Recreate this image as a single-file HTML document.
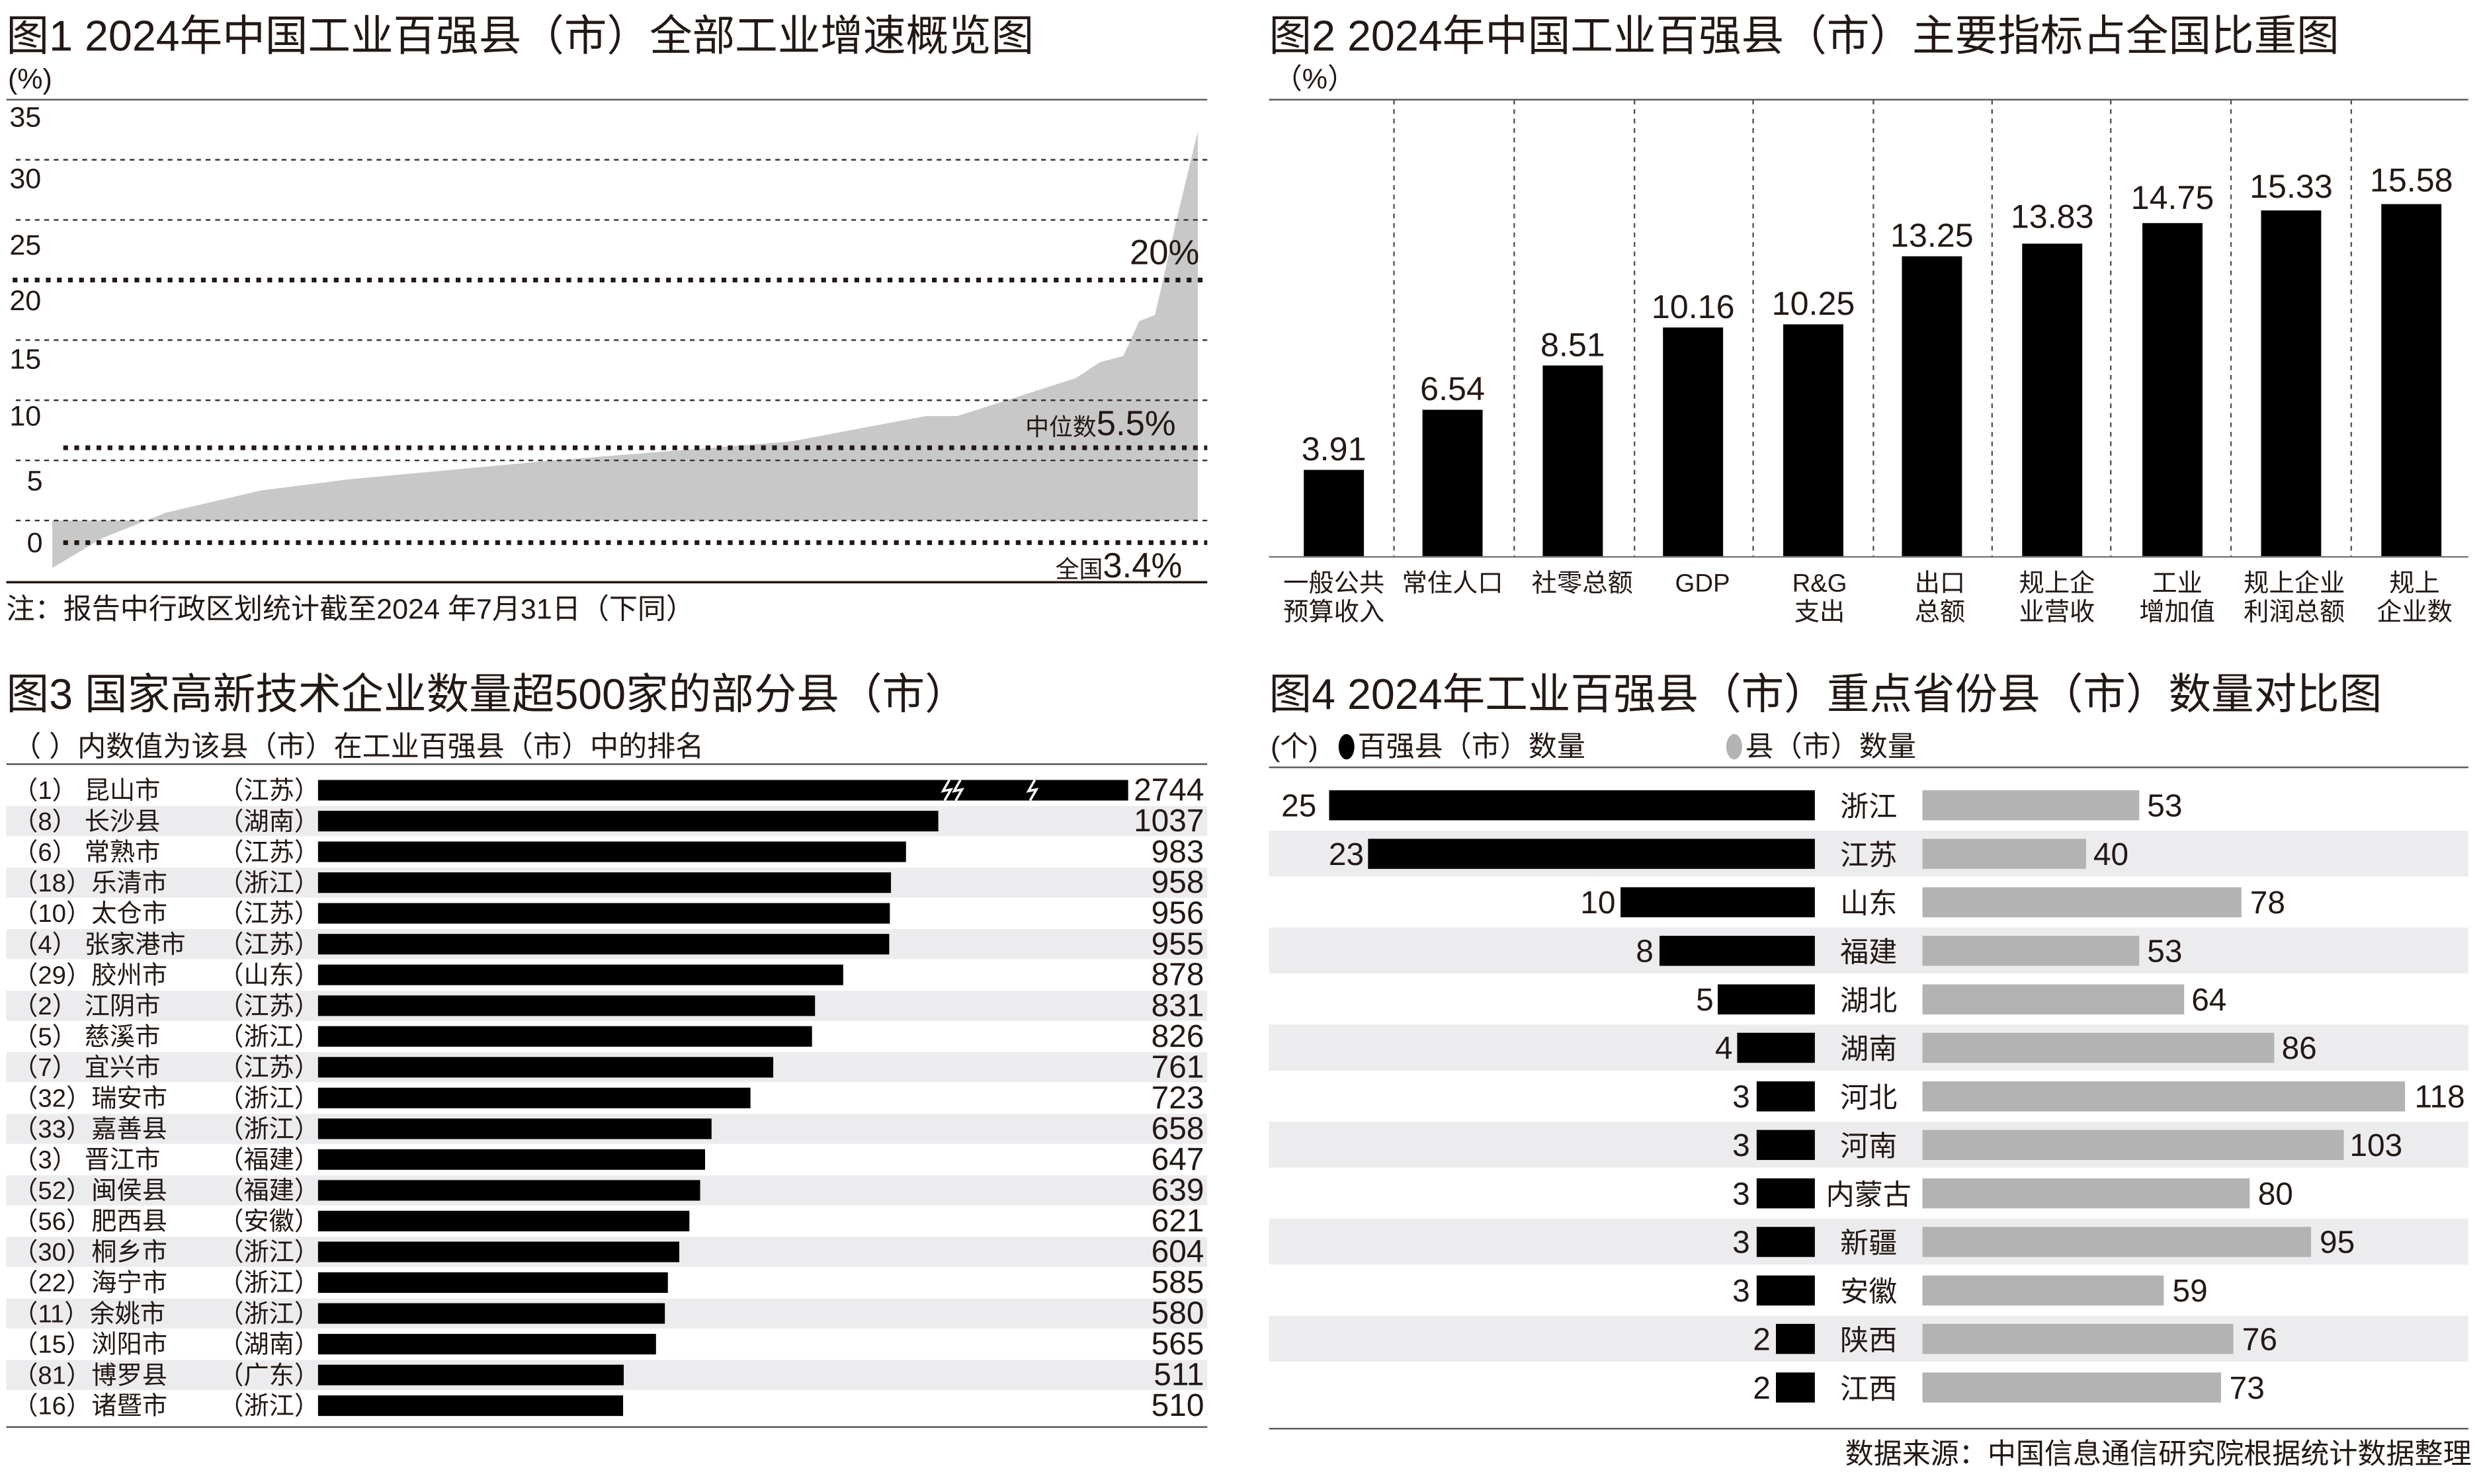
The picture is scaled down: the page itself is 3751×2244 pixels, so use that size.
<!DOCTYPE html>
<html><head><meta charset="utf-8"><style>
html,body{margin:0;padding:0;background:#fff;}
svg{display:block;}
text{font-family:"Liberation Sans Narrow","Liberation Sans","Noto Sans CJK SC",sans-serif;fill:#231815;}
.t{font-size:27px;}
.s{font-size:18px;}
.n{font-size:20px;}
</style></head><body>
<svg width="3751" height="2244" viewBox="0 0 1568 938" preserveAspectRatio="none" xmlns="http://www.w3.org/2000/svg">
<!-- Chart 1 -->
<text x="4" y="32" class="t">图1 2024年中国工业百强县（市）全部工业增速概览图</text>
<text x="5" y="56" class="s">(%)</text>
<line x1="4" y1="63" x2="763" y2="63" stroke="#555" stroke-width="1"/>
<polygon fill="#c8c8c8" points="33,359 65,340 105,324 165,310 220,303 350,291 500,279 585,263 605,263 680,239 695,229 710,225 720,203 730,199 745,133 757,83 757,329 33,329"/>
<g stroke="#333" stroke-width="1" stroke-dasharray="3,3">
<line x1="10" y1="101" x2="763" y2="101"/><line x1="10" y1="139" x2="763" y2="139"/>
<line x1="10" y1="215" x2="763" y2="215"/><line x1="10" y1="253" x2="763" y2="253"/>
<line x1="10" y1="291" x2="763" y2="291"/><line x1="10" y1="329" x2="763" y2="329"/>
</g>
<g stroke="#231815" stroke-width="3" stroke-dasharray="3,4">
<line x1="8" y1="177" x2="763" y2="177"/><line x1="40" y1="283" x2="763" y2="283"/><line x1="40" y1="343" x2="763" y2="343"/>
</g>
<line x1="4" y1="368" x2="763" y2="368" stroke="#231815" stroke-width="1.5"/>
<g class="s"><text x="6" y="80" class="s">35</text><text x="6" y="119" class="s">30</text><text x="6" y="161" class="s">25</text><text x="6" y="196" class="s">20</text><text x="6" y="233" class="s">15</text><text x="6" y="269" class="s">10</text><text x="17" y="310" class="s">5</text><text x="17" y="349" class="s">0</text></g>
<text x="714" y="167" style="font-size:22px">20%</text>
<text x="648" y="275" style="font-size:15px">中位数<tspan style="font-size:22px">5.5%</tspan></text>
<text x="667" y="365" style="font-size:15px">全国<tspan style="font-size:22px">3.4%</tspan></text>
<text x="4" y="391" class="s">注：报告中行政区划统计截至2024 年7月31日（下同）</text>

<!-- Chart 2 -->
<text x="802" y="32" class="t">图2 2024年中国工业百强县（市）主要指标占全国比重图</text>
<text x="805" y="56" class="s">（%）</text>
<line x1="802" y1="63" x2="1560" y2="63" stroke="#555" stroke-width="1"/>
<g stroke="#555" stroke-width="1" stroke-dasharray="3,3">
<line x1="881" y1="63" x2="881" y2="352"/><line x1="957" y1="63" x2="957" y2="352"/><line x1="1033" y1="63" x2="1033" y2="352"/>
<line x1="1108" y1="63" x2="1108" y2="352"/><line x1="1184" y1="63" x2="1184" y2="352"/><line x1="1259" y1="63" x2="1259" y2="352"/>
<line x1="1334" y1="63" x2="1334" y2="352"/><line x1="1410" y1="63" x2="1410" y2="352"/><line x1="1486" y1="63" x2="1486" y2="352"/>
</g>
<g fill="#000">
<rect x="824" y="297" width="38" height="55"/><rect x="899" y="259" width="38" height="93"/><rect x="975" y="231" width="38" height="121"/>
<rect x="1051" y="207" width="38" height="145"/><rect x="1127" y="205" width="38" height="147"/><rect x="1202" y="162" width="38" height="190"/>
<rect x="1278" y="154" width="38" height="198"/><rect x="1354" y="141" width="38" height="211"/><rect x="1429" y="133" width="38" height="219"/>
<rect x="1505" y="129" width="38" height="223"/>
</g>
<line x1="802" y1="352" x2="1560" y2="352" stroke="#777" stroke-width="1"/>
<g style="font-size:21px" text-anchor="middle">
<text x="843" y="291">3.91</text><text x="918" y="253">6.54</text><text x="994" y="225">8.51</text><text x="1070" y="201">10.16</text>
<text x="1146" y="199">10.25</text><text x="1221" y="156">13.25</text><text x="1297" y="144">13.83</text><text x="1373" y="132">14.75</text>
<text x="1448" y="125">15.33</text><text x="1524" y="121">15.58</text>
</g>
<g style="font-size:16px" text-anchor="middle">
<text x="843" y="374">一般公共</text><text x="843" y="392">预算收入</text>
<text x="918" y="374">常住人口</text><text x="1000" y="374">社零总额</text><text x="1076" y="374">GDP</text>
<text x="1150" y="374">R&amp;G</text><text x="1150" y="392">支出</text>
<text x="1226" y="374">出口</text><text x="1226" y="392">总额</text>
<text x="1300" y="374">规上企</text><text x="1300" y="392">业营收</text>
<text x="1376" y="374">工业</text><text x="1376" y="392">增加值</text>
<text x="1450" y="374">规上企业</text><text x="1450" y="392">利润总额</text>
<text x="1526" y="374">规上</text><text x="1526" y="392">企业数</text>
</g>

<!-- Chart 3 -->
<text x="4" y="448" class="t">图3 国家高新技术企业数量超500家的部分县（市）</text>
<text x="8" y="478" class="s">（ ）内数值为该县（市）在工业百强县（市）中的排名</text>
<line x1="4" y1="483" x2="763" y2="483" stroke="#555" stroke-width="1"/>
<g fill="#ececee">
<rect x="4" y="509.5" width="759" height="19"/><rect x="4" y="548.4" width="759" height="19"/><rect x="4" y="587.3" width="759" height="19"/>
<rect x="4" y="626.2" width="759" height="19"/><rect x="4" y="665.1" width="759" height="19"/><rect x="4" y="704" width="759" height="19"/>
<rect x="4" y="742.9" width="759" height="19"/><rect x="4" y="781.8" width="759" height="19"/><rect x="4" y="820.7" width="759" height="19"/>
<rect x="4" y="859.6" width="759" height="19"/>
</g>
<g fill="#000">
<rect x="201" y="493" width="512" height="13"/>
<rect x="201" y="512.5" width="392" height="13"/>
<rect x="201" y="531.9" width="371.6" height="13"/>
<rect x="201" y="551.4" width="362.1" height="13"/>
<rect x="201" y="570.8" width="361.4" height="13"/>
<rect x="201" y="590.3" width="361" height="13"/>
<rect x="201" y="609.7" width="331.9" height="13"/>
<rect x="201" y="629.2" width="314.1" height="13"/>
<rect x="201" y="648.6" width="312.2" height="13"/>
<rect x="201" y="668.1" width="287.7" height="13"/>
<rect x="201" y="687.5" width="273.3" height="13"/>
<rect x="201" y="707" width="248.7" height="13"/>
<rect x="201" y="726.4" width="244.6" height="13"/>
<rect x="201" y="745.9" width="241.5" height="13"/>
<rect x="201" y="765.3" width="234.7" height="13"/>
<rect x="201" y="784.8" width="228.3" height="13"/>
<rect x="201" y="804.2" width="221.1" height="13"/>
<rect x="201" y="823.7" width="219.2" height="13"/>
<rect x="201" y="843.1" width="213.6" height="13"/>
<rect x="201" y="862.6" width="193.2" height="13"/>
<rect x="201" y="882" width="192.8" height="13"/>
</g>
<g stroke="#fff" stroke-width="1.5" fill="none">
<polyline points="600,493 596,500 601,499 597,506"/><polyline points="607,493 603,500 608,499 604,506"/><polyline points="654,493 650,500 655,499 651,506"/>
</g>
<g style="font-size:16px">
<text x="8" y="505">（1） 昆山市</text><text x="138" y="505">（江苏）</text>
<text x="8" y="524.5">（8） 长沙县</text><text x="138" y="524.5">（湖南）</text>
<text x="8" y="544">（6） 常熟市</text><text x="138" y="544">（江苏）</text>
<text x="8" y="563.4">（18）乐清市</text><text x="138" y="563.4">（浙江）</text>
<text x="8" y="582.8">（10）太仓市</text><text x="138" y="582.8">（江苏）</text>
<text x="8" y="602.3">（4） 张家港市</text><text x="138" y="602.3">（江苏）</text>
<text x="8" y="621.7">（29）胶州市</text><text x="138" y="621.7">（山东）</text>
<text x="8" y="641.2">（2） 江阴市</text><text x="138" y="641.2">（江苏）</text>
<text x="8" y="660.6">（5） 慈溪市</text><text x="138" y="660.6">（浙江）</text>
<text x="8" y="680.1">（7） 宜兴市</text><text x="138" y="680.1">（江苏）</text>
<text x="8" y="699.5">（32）瑞安市</text><text x="138" y="699.5">（浙江）</text>
<text x="8" y="719">（33）嘉善县</text><text x="138" y="719">（浙江）</text>
<text x="8" y="738.4">（3） 晋江市</text><text x="138" y="738.4">（福建）</text>
<text x="8" y="757.9">（52）闽侯县</text><text x="138" y="757.9">（福建）</text>
<text x="8" y="777.3">（56）肥西县</text><text x="138" y="777.3">（安徽）</text>
<text x="8" y="796.8">（30）桐乡市</text><text x="138" y="796.8">（浙江）</text>
<text x="8" y="816.2">（22）海宁市</text><text x="138" y="816.2">（浙江）</text>
<text x="8" y="835.7">（11）余姚市</text><text x="138" y="835.7">（浙江）</text>
<text x="8" y="855.1">（15）浏阳市</text><text x="138" y="855.1">（湖南）</text>
<text x="8" y="874.6">（81）博罗县</text><text x="138" y="874.6">（广东）</text>
<text x="8" y="894">（16）诸暨市</text><text x="138" y="894">（浙江）</text>
</g>
<g class="n" text-anchor="end">
<text x="761" y="506">2744</text><text x="761" y="525.5">1037</text><text x="761" y="545">983</text><text x="761" y="564.4">958</text>
<text x="761" y="583.8">956</text><text x="761" y="603.3">955</text><text x="761" y="622.7">878</text><text x="761" y="642.2">831</text>
<text x="761" y="661.6">826</text><text x="761" y="681.1">761</text><text x="761" y="700.5">723</text><text x="761" y="720">658</text>
<text x="761" y="739.4">647</text><text x="761" y="758.9">639</text><text x="761" y="778.3">621</text><text x="761" y="797.8">604</text>
<text x="761" y="817.2">585</text><text x="761" y="836.7">580</text><text x="761" y="856.1">565</text><text x="761" y="875.6">511</text>
<text x="761" y="895">510</text>
</g>
<line x1="4" y1="902" x2="763" y2="902" stroke="#555" stroke-width="1"/>

<!-- Chart 4 -->
<text x="802" y="448" class="t">图4 2024年工业百强县（市）重点省份县（市）数量对比图</text>
<text x="803" y="478" class="s">(个)</text>
<ellipse cx="851" cy="472" rx="5" ry="8" fill="#000"/>
<text x="858" y="478" class="s">百强县（市）数量</text>
<ellipse cx="1096" cy="472" rx="5" ry="8" fill="#b3b3b3"/>
<text x="1103" y="478" class="s">县（市）数量</text>
<line x1="802" y1="485" x2="1560" y2="485" stroke="#555" stroke-width="1"/>
<g fill="#ececee">
<rect x="802" y="525" width="758" height="29"/><rect x="802" y="586.3" width="758" height="29"/>
<rect x="802" y="647.6" width="758" height="29"/><rect x="802" y="709" width="758" height="29"/>
<rect x="802" y="770.3" width="758" height="29"/><rect x="802" y="831.6" width="758" height="29"/>
</g>
<g fill="#000">
<rect x="840" y="499.5" width="307" height="19"/><rect x="864.6" y="530.2" width="282.4" height="19"/>
<rect x="1024.2" y="560.8" width="122.8" height="19"/><rect x="1048.8" y="591.5" width="98.2" height="19"/>
<rect x="1085.6" y="622.2" width="61.4" height="19"/><rect x="1097.9" y="652.8" width="49.1" height="19"/>
<rect x="1110.2" y="683.5" width="36.8" height="19"/><rect x="1110.2" y="714.2" width="36.8" height="19"/>
<rect x="1110.2" y="744.8" width="36.8" height="19"/><rect x="1110.2" y="775.5" width="36.8" height="19"/>
<rect x="1110.2" y="806.2" width="36.8" height="19"/><rect x="1122.4" y="836.8" width="24.6" height="19"/>
<rect x="1122.4" y="867.5" width="24.6" height="19"/>
</g>
<g fill="#b3b3b3">
<rect x="1215" y="499.5" width="137" height="19"/><rect x="1215" y="530.2" width="103.4" height="19"/>
<rect x="1215" y="560.8" width="201.6" height="19"/><rect x="1215" y="591.5" width="137" height="19"/>
<rect x="1215" y="622.2" width="165.4" height="19"/><rect x="1215" y="652.8" width="222.3" height="19"/>
<rect x="1215" y="683.5" width="305" height="19"/><rect x="1215" y="714.2" width="266.3" height="19"/>
<rect x="1215" y="744.8" width="206.8" height="19"/><rect x="1215" y="775.5" width="245.6" height="19"/>
<rect x="1215" y="806.2" width="152.5" height="19"/><rect x="1215" y="836.8" width="196.5" height="19"/>
<rect x="1215" y="867.5" width="188.7" height="19"/>
</g>
<g class="s" text-anchor="middle">
<text x="1181" y="516">浙江</text><text x="1181" y="546.7">江苏</text><text x="1181" y="577.3">山东</text>
<text x="1181" y="608">福建</text><text x="1181" y="638.7">湖北</text><text x="1181" y="669.3">湖南</text>
<text x="1181" y="700">河北</text><text x="1181" y="730.7">河南</text><text x="1181" y="761.3">内蒙古</text>
<text x="1181" y="792">新疆</text><text x="1181" y="822.7">安徽</text><text x="1181" y="853.3">陕西</text>
<text x="1181" y="884">江西</text>
</g>
<g class="n" text-anchor="end">
<text x="832" y="516">25</text><text x="862" y="546.7">23</text><text x="1021" y="577.3">10</text>
<text x="1045" y="608">8</text><text x="1083" y="638.7">5</text><text x="1095" y="669.3">4</text>
<text x="1106" y="700">3</text><text x="1106" y="730.7">3</text><text x="1106" y="761.3">3</text>
<text x="1106" y="792">3</text><text x="1106" y="822.7">3</text><text x="1119" y="853.3">2</text>
<text x="1119" y="884">2</text>
</g>
<g class="n">
<text x="1357" y="516">53</text><text x="1323" y="546.7">40</text><text x="1422" y="577.3">78</text>
<text x="1357" y="608">53</text><text x="1385" y="638.7">64</text><text x="1442" y="669.3">86</text>
<text x="1526" y="700">118</text><text x="1485" y="730.7">103</text><text x="1427" y="761.3">80</text>
<text x="1466" y="792">95</text><text x="1373" y="822.7">59</text><text x="1417" y="853.3">76</text>
<text x="1409" y="884">73</text>
</g>
<line x1="802" y1="903" x2="1560" y2="903" stroke="#555" stroke-width="1"/>
<text x="1562" y="925" class="s" text-anchor="end">数据来源：中国信息通信研究院根据统计数据整理</text>
</svg>
</body></html>
